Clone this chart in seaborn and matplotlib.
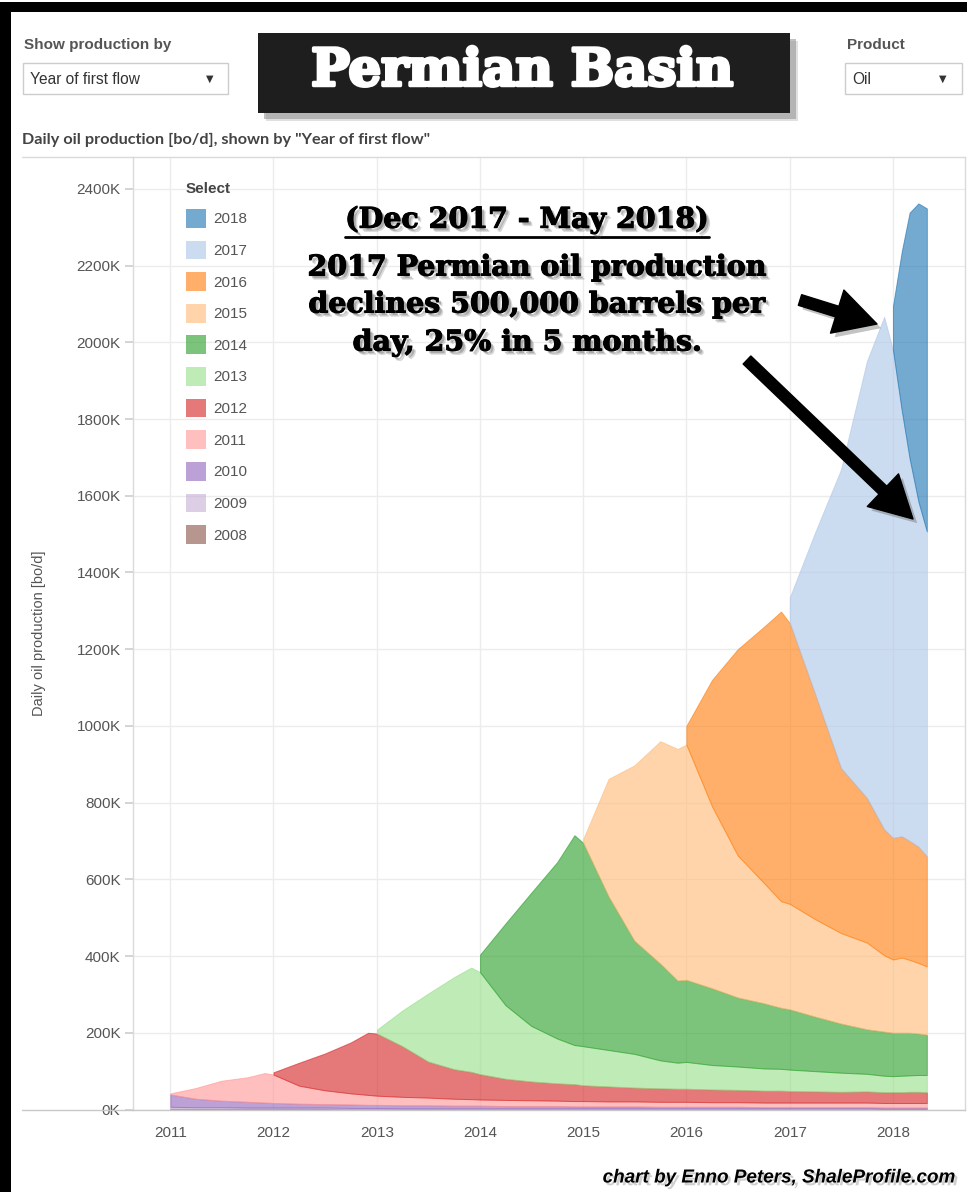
import numpy as np
import pandas as pd
import matplotlib.pyplot as plt
import matplotlib.dates as mdates
import matplotlib.patheffects as pe
from matplotlib.patches import Patch, Rectangle
from matplotlib.lines import Line2D
import seaborn as sns

# sample months: quarterly plus December, monthly in 2018
months = [
    "2011-01", "2011-04", "2011-07", "2011-10", "2011-12",
    "2012-01", "2012-04", "2012-07", "2012-10", "2012-12",
    "2013-01", "2013-04", "2013-07", "2013-10", "2013-12",
    "2014-01", "2014-04", "2014-07", "2014-10", "2014-12",
    "2015-01", "2015-04", "2015-07", "2015-10", "2015-12",
    "2016-01", "2016-04", "2016-07", "2016-10", "2016-12",
    "2017-01", "2017-04", "2017-07", "2017-10", "2017-12",
    "2018-01", "2018-02", "2018-03", "2018-04", "2018-05",
]

# daily oil production by year of first flow, in K bo/d,
# each list starts at the vintage's first month
v2008 = [2, 2, 2, 2, 2, 2, 2, 2, 1, 1, 1, 1, 1, 1, 1, 1, 1, 1, 1, 1,
         1, 1, 1, 1, 1, 1, 1, 1, 1, 1, 1, 1, 1, 1, 1, 1, 1, 1, 1, 1]
v2009 = [5, 4, 4, 3, 3, 3, 3, 3, 3, 3, 3, 2, 2, 2, 2, 2, 2, 2, 2, 2,
         2, 2, 2, 2, 2, 2, 2, 2, 2, 2, 2, 2, 2, 2, 1, 1, 1, 1, 1, 1]
v2010 = [32, 22, 17, 15, 13, 12, 10, 9, 9, 8, 8, 8, 8, 7, 7, 7, 6, 6, 6, 5,
         5, 5, 5, 4, 4, 4, 4, 4, 3, 3, 3, 3, 3, 3, 3, 3, 3, 3, 3, 3]
v2011 = [3, 28, 52, 64, 77, 74, 47, 36, 29, 26, 24, 22, 20, 18, 17, 16, 16, 15, 14, 14,
         14, 13, 13, 13, 13, 13, 12, 12, 12, 12, 12, 12, 12, 12, 12, 12, 12, 12, 12, 12]
v2012 = [6, 60, 96, 133, 162, 162, 132, 94, 77, 71, 66, 55, 49, 45, 44, 41, 39, 36,
         35, 34, 34, 33, 32, 31, 31, 30, 29, 28, 29, 28, 28, 28, 29, 29, 28]
v2013 = [10, 93, 177, 240, 272, 266, 192, 145, 117, 102, 102, 95, 88, 73, 68,
         70, 64, 61, 58, 57, 56, 53, 50, 46, 43, 42, 43, 43, 44, 45]
v2014 = [46, 213, 347, 460, 547, 530, 400, 295, 252, 214, 214, 200, 180,
         170, 159, 157, 142, 128, 116, 115, 113, 112, 111, 108, 105]
v2015 = [10, 307, 457, 580, 604, 613, 474, 370, 314, 278,
         275, 254, 236, 226, 199, 191, 196, 190, 184, 178]
v2016 = [49, 330, 538, 667, 755, 732, 586, 430, 377, 328, 317, 316, 310, 303, 287]
v2017 = [67, 423, 778, 1139, 1336, 1272, 1111, 997, 900, 847]
v2018 = [114, 413, 641, 777, 842]

vintages = [2008, 2009, 2010, 2011, 2012, 2013, 2014, 2015, 2016, 2017, 2018]
series = [v2008, v2009, v2010, v2011, v2012, v2013, v2014, v2015, v2016, v2017, v2018]
y_ticks = list(range(0, 2401, 200))

W, H = 967, 1192


def fx(x):
    return x / W


def fy(y):
    return 1 - y / H


sns.set_theme(style="white")
plt.rcParams["font.family"] = ["Liberation Sans", "DejaVu Sans"]

# tableau 10 pairs: 2018 = blue, 2017 = light blue, ..., 2008 = brown
palette = sns.color_palette("tab20", 11)
colors = {year: palette[2018 - year] for year in vintages}

dates = pd.to_datetime(months)
n = len(dates)

fig = plt.figure(figsize=(W / 100, H / 100), dpi=100)
ax = fig.add_axes([fx(133), fy(1109.5), fx(965) - fx(133), fy(157) - fy(1109.5)])

# stacked areas, each vintage only drawn from its first month
base = np.zeros(n)
for year, vals in zip(vintages, series):
    full = np.full(n, np.nan)
    full[n - len(vals):] = vals
    ax.fill_between(dates, base, base + full, facecolor=colors[year], alpha=0.62,
                    edgecolor=colors[year], linewidth=0.7, zorder=2)
    base = base + np.nan_to_num(full)

ax.set_xlim(pd.Timestamp("2010-08-22"), pd.Timestamp("2018-09-13"))
ax.set_ylim(0, 2483)
ax.set_yticks(y_ticks)
ax.set_yticklabels([f"{v}K" for v in y_ticks])
ax.xaxis.set_major_locator(mdates.YearLocator())
ax.xaxis.set_major_formatter(mdates.DateFormatter("%Y"))
ax.grid(True, color="#ececec", linewidth=1)
ax.set_axisbelow(True)
for side in ["left", "right", "top", "bottom"]:
    ax.spines[side].set_color("#dadada")
    ax.spines[side].set_linewidth(1)
ax.spines["bottom"].set_color("#c8c8c8")
ax.tick_params(axis="y", length=6, color="#cfcfcf", labelsize=11, labelcolor="#555555", pad=3, left=True)
ax.tick_params(axis="x", length=0, labelsize=11, labelcolor="#555555", pad=12)

ax.set_ylabel("Daily oil production [bo/d]", fontsize=10.5, color="#555555")
ax.yaxis.set_label_coords(-0.104, 0.5)

# legend
handles = [Patch(facecolor=colors[y], alpha=0.62, edgecolor="none", label=str(y))
           for y in reversed(vintages)]
leg = ax.legend(handles=handles, title="Select", loc="upper left",
                bbox_to_anchor=(fx(186), fy(182)), bbox_transform=fig.transFigure,
                frameon=False, fontsize=11, alignment="left",
                title_fontproperties={"weight": "bold", "size": 11},
                handlelength=1.3, handleheight=1.5, labelspacing=0.85,
                handletextpad=0.5, borderpad=0, borderaxespad=0)
for t in leg.get_texts():
    t.set_color("#555555")
leg.get_title().set_color("#444444")

# pane lines extending to the left edge
fig.add_artist(Line2D([fx(22), fx(133)], [fy(157), fy(157)], color="#dadada", lw=1))
fig.add_artist(Line2D([fx(22), fx(133)], [fy(1109.5), fy(1109.5)], color="#c8c8c8", lw=1))

# black frame
fig.add_artist(Rectangle((0, fy(12)), 1, fy(2) - fy(12), transform=fig.transFigure,
                         facecolor="black", edgecolor="none"))
fig.add_artist(Rectangle((0, 0), fx(11), fy(2), transform=fig.transFigure,
                         facecolor="black", edgecolor="none"))

# header controls
fig.text(fx(24), fy(45), "Show production by", fontsize=11, weight="bold",
         color="#555555", va="center")
fig.add_artist(Rectangle((fx(23), fy(94)), fx(228) - fx(23), fy(63) - fy(94),
                         transform=fig.transFigure, facecolor="white", edgecolor="#cccccc", lw=1))
fig.text(fx(30), fy(79), "Year of first flow", fontsize=11.2, color="#333333", va="center")
fig.text(fx(210), fy(79), "▼", fontsize=7, color="#333333", va="center", ha="center",
         family="DejaVu Sans")

fig.text(fx(847), fy(45), "Product", fontsize=11, weight="bold", color="#555555", va="center")
fig.add_artist(Rectangle((fx(845), fy(94)), fx(962) - fx(845), fy(63) - fy(94),
                         transform=fig.transFigure, facecolor="white", edgecolor="#cccccc", lw=1))
fig.text(fx(852), fy(79), "Oil", fontsize=11.2, color="#333333", va="center")
fig.text(fx(943), fy(79), "▼", fontsize=7, color="#333333", va="center", ha="center",
         family="DejaVu Sans")

# title box with shadow
fig.add_artist(Rectangle((fx(264), fy(119)), fx(796) - fx(264), fy(39) - fy(119),
                         transform=fig.transFigure, facecolor="#777777", alpha=0.45, edgecolor="none"))
fig.add_artist(Rectangle((fx(266), fy(121)), fx(798) - fx(266), fy(41) - fy(121),
                         transform=fig.transFigure, facecolor="#999999", alpha=0.3, edgecolor="none"))
fig.add_artist(Rectangle((fx(258), fy(113)), fx(790) - fx(258), fy(33) - fy(113),
                         transform=fig.transFigure, facecolor="#1e1e1e", edgecolor="none"))
fig.text(fx(522), fy(72), "Permian Basin", fontsize=37, weight="bold", color="white",
         ha="center", va="center", family="DejaVu Serif",
         path_effects=[pe.Stroke(linewidth=2.5, foreground="white"), pe.Normal()])

fig.text(fx(22), fy(140), 'Daily oil production [bo/d], shown by "Year of first flow"',
         fontsize=11.7, weight="bold", color="#444444", va="center", family=["Lato", "DejaVu Sans"])

# annotation
shadow = [pe.SimplePatchShadow(offset=(3, -3), shadow_rgbFace="#666666", alpha=0.25),
          pe.SimplePatchShadow(offset=(2, -2), shadow_rgbFace="#444444", alpha=0.3),
          pe.Stroke(linewidth=0.8, foreground="black"), pe.Normal()]
note_kw = dict(fontsize=20.5, weight="bold", color="black", ha="center", va="center",
               family="DejaVu Serif", path_effects=shadow)
head = fig.text(fx(527), fy(220), "(Dec 2017 - May 2018)", **note_kw)
fig.text(fx(537), fy(268), "2017 Permian oil production", **note_kw)
fig.text(fx(537), fy(305), "declines 500,000 barrels per", **note_kw)
fig.text(fx(527), fy(343), "day, 25% in 5 months.", **note_kw)

fig.canvas.draw()
bb = head.get_window_extent().transformed(fig.transFigure.inverted())
fig.add_artist(Line2D([bb.x0, bb.x1], [fy(237), fy(237)], color="black", lw=2,
                      path_effects=shadow[:2] + [pe.Normal()]))

arrow_style = "simple,head_length=1.2,head_width=1.3,tail_width=0.32"
arrow_shadow = [pe.SimplePatchShadow(offset=(3, -3), shadow_rgbFace="#555555", alpha=0.35), pe.Normal()]
for tail, tip in [((800, 300), (877, 324)), ((747, 360), (913, 519))]:
    ann = ax.annotate("", xy=(fx(tip[0]), fy(tip[1])), xytext=(fx(tail[0]), fy(tail[1])),
                      xycoords="figure fraction", textcoords="figure fraction",
                      arrowprops=dict(arrowstyle=arrow_style, color="black",
                                      mutation_scale=25, shrinkA=0, shrinkB=0),
                      annotation_clip=False)
    ann.arrow_patch.set_path_effects(arrow_shadow)

fig.text(fx(955), fy(1178), "chart by Enno Peters, ShaleProfile.com", fontsize=13.6,
         weight="bold", style="italic", color="black", ha="right", va="center",
         path_effects=[pe.SimplePatchShadow(offset=(2, -2), shadow_rgbFace="#777777", alpha=0.35),
                       pe.Normal()])

fig.savefig("out.png", dpi=100)
